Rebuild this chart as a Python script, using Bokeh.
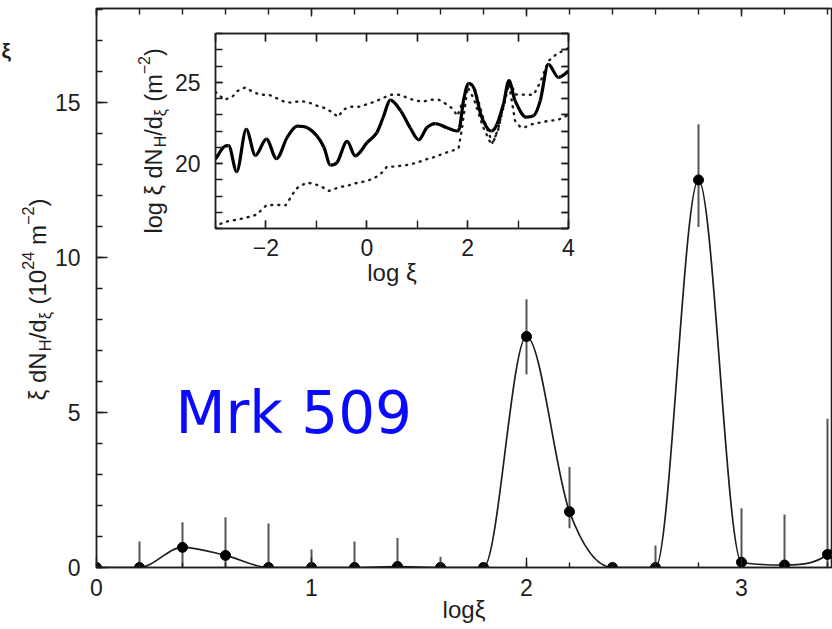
import numpy as np
from bokeh.plotting import figure
from bokeh.models import Range1d, SingleIntervalTicker, LinearAxis, Label, CustomJSTickFormatter
from bokeh.embed import file_html
from bokeh.resources import INLINE

FONT = "Liberation Sans"
INK = "#1e1e1e"

# ---------------- main panel data ----------------
log_xi = [0.0, 0.2, 0.4, 0.6, 0.8, 1.0, 1.2, 1.4, 1.6, 1.8, 2.0, 2.2, 2.4, 2.6, 2.8, 3.0, 3.2, 3.4, 3.6]
xi_dNH = [0.0, 0.0, 0.65, 0.39, 0.0, 0.0, 0.0, 0.03, 0.0, 0.0, 7.45, 1.8, 0.0, 0.0, 12.5, 0.17, 0.08, 0.42, 6.0]
err_low = [0, 0, 0, 0, 0, 0, 0, 0, 0, 0, 6.23, 1.27, 0, 0, 10.98, 0, 0, 0, 3.0]
err_high = [0, 0.84, 1.46, 1.62, 1.42, 0.58, 0.84, 0.95, 0.35, 0, 8.65, 3.24, 0, 0.71, 14.3, 1.91, 1.71, 4.8, 9.0]

# ---------------- inset data ----------------
solid_x = [-3.0, -2.83, -2.74, -2.58, -2.39, -2.21, -1.99, -1.79, -1.58, -1.38, -1.18, -0.99, -0.85,
           -0.72, -0.59, -0.39, -0.23, 0.01, 0.2, 0.32, 0.47, 0.67, 0.86, 1.03, 1.19, 1.36, 1.59, 1.79,
           1.84, 1.92, 2.02, 2.13, 2.28, 2.47, 2.58, 2.71, 2.82, 2.94, 3.16, 3.31, 3.44, 3.6, 3.8, 4.0]
solid_y = [20.27, 21.03, 21.1, 19.5, 22.1, 20.5, 21.5, 20.3, 21.6, 22.3, 22.2, 21.7, 21.0,
           19.9, 20.06, 21.36, 20.47, 21.3, 21.9, 22.8, 23.9, 23.25, 22.2, 21.46, 22.2, 22.46, 22.2, 22.0,
           22.2, 23.9, 24.94, 24.6, 22.84, 22.0, 22.4, 23.66, 25.1, 23.87, 22.85, 22.94, 23.87, 26.1, 25.3, 25.68]
upper_x = [-3.0, -2.82, -2.67, -2.56, -2.41, -2.27, -2.12, -1.94, -1.79, -1.65, -1.5, -1.33, -1.17, -1.0,
           -0.85, -0.71, -0.57, -0.46, -0.32, -0.16, 0.01, 0.17, 0.47, 0.63, 0.8, 0.93, 1.1, 1.26, 1.43,
           1.56, 1.69, 1.8, 1.92, 2.02, 2.15, 2.3, 2.45, 2.52, 2.62, 2.75, 2.83, 2.95, 3.15, 3.31, 3.44,
           3.6, 3.77, 3.97, 4.0]
upper_y = [24.4, 23.92, 24.1, 24.47, 24.68, 24.43, 24.23, 24.23, 24.02, 23.82, 23.74, 23.84, 23.78, 23.57,
           23.43, 23.2, 22.87, 23.32, 23.49, 23.49, 23.65, 23.82, 24.23, 24.23, 24.06, 23.9, 23.8, 23.92, 23.92,
           23.69, 23.4, 22.93, 24.0, 25.0, 24.5, 22.9, 21.6, 21.4, 22.3, 24.2, 25.1, 24.25, 24.23, 24.23, 25.0,
           26.3, 26.75, 27.06, 27.1]
lower_x = [-3.0, -2.93, -2.74, -2.54, -2.34, -2.17, -2.08, -1.98, -1.81, -1.61, -1.51, -1.41, -1.32, -1.18,
           -1.02, -0.89, -0.75, -0.66, -0.52, -0.39, -0.26, -0.13, 0.04, 0.17, 0.3, 0.4, 0.53, 0.67, 0.83,
           1.0, 1.19, 1.36, 1.52, 1.69, 1.82, 1.88, 2.0, 2.12, 2.3, 2.47, 2.6, 2.75, 2.82, 2.94, 3.04, 3.11,
           3.28, 3.44, 3.61, 3.78, 3.94, 4.0]
lower_y = [16.0, 16.26, 16.46, 16.56, 16.71, 16.87, 17.18, 17.45, 17.45, 17.43, 17.9, 18.42, 18.62, 18.83,
           18.72, 18.56, 18.31, 18.42, 18.56, 18.62, 18.77, 18.83, 18.97, 19.14, 19.44, 19.81, 19.81, 19.86, 19.92,
           20.06, 20.27, 20.41, 20.62, 20.78, 20.93, 22.0, 24.7, 24.0, 22.3, 21.15, 22.0, 24.0, 24.9, 22.63, 22.26, 22.2,
           22.42, 22.52, 22.63, 22.67, 22.9, 23.0]


def smooth_segments(xv, yv):
    """Monotone (Fritsch-Carlson) cubic Hermite tangents -> Bezier control points."""
    x = np.asarray(xv, float)
    y = np.asarray(yv, float)
    h = np.diff(x)
    d = np.diff(y) / h
    m = np.zeros_like(y)
    m[0], m[-1] = d[0], d[-1]
    for i in range(1, len(y) - 1):
        if d[i - 1] * d[i] > 0:
            m[i] = (y[i + 1] - y[i - 1]) / (x[i + 1] - x[i - 1])
    for k in range(len(d)):
        if d[k] == 0:
            m[k] = 0.0
            m[k + 1] = 0.0
        else:
            a, b = m[k] / d[k], m[k + 1] / d[k]
            s = a * a + b * b
            if s > 9:
                t = 3 / np.sqrt(s)
                m[k], m[k + 1] = t * a * d[k], t * b * d[k]
    return dict(x0=x[:-1], y0=y[:-1], x1=x[1:], y1=y[1:],
                cx0=x[:-1] + h / 3, cy0=y[:-1] + m[:-1] * h / 3,
                cx1=x[1:] - h / 3, cy1=y[1:] - m[1:] * h / 3)


def style_axis(ax, major_in, minor_in, size="23px", standoff=10, show=True):
    ax.major_tick_in = major_in
    ax.major_tick_out = 0
    ax.minor_tick_in = minor_in
    ax.minor_tick_out = 0
    for attr in ("axis_line", "major_tick_line", "minor_tick_line"):
        setattr(ax, attr + "_color", INK)
        setattr(ax, attr + "_width", 1.4)
    ax.major_label_text_font = FONT
    ax.major_label_text_color = INK
    ax.major_label_standoff = standoff
    if show:
        ax.major_label_text_font_size = size
    else:
        ax.formatter = CustomJSTickFormatter(code="return ''")
        ax.major_label_text_font_size = "0px"
        ax.major_label_standoff = 0


W = {' ': 0.278, '(': 0.333, ')': 0.333, 'd': 0.556, 'N': 0.722, 'H': 0.722, '/': 0.278, 'm': 0.833,
     'l': 0.222, 'o': 0.556, 'g': 0.556, '\u2212': 0.584, '\u03be': 0.5}


def text_width(s, size):
    return sum(W.get(c, 0.556) for c in s) * size


def rotated_label(fig, pieces, x_base, y_start, size):
    """Rotated (reading upward) title made of normal / subscript / superscript pieces."""
    y = y_start
    for txt, kind in pieces:
        sz = size if kind == "n" else size * 0.68
        lead = len(txt) - len(txt.lstrip(" "))
        y += text_width(" " * lead, sz)
        txt = txt.lstrip(" ")
        dx = 0 if kind == "n" else (size * 0.30 if kind == "sub" else -size * 0.40)
        fig.add_layout(Label(x=x_base + dx, y=y, x_units="screen", y_units="screen", text=txt,
                             angle=90, angle_units="deg", text_font=FONT, text_font_size=f"{sz:.1f}px",
                             text_color=INK, text_align="left", text_baseline="alphabetic"))
        y += text_width(txt, sz)


# ---------------- main figure ----------------
p = figure(width=832, height=629, x_range=Range1d(0, 3.4186), y_range=Range1d(0, 18.03),
           output_backend="svg", toolbar_location=None,
           min_border_left=96, min_border_right=1, min_border_top=8, min_border_bottom=62)
p.background_fill_color = "white"
p.border_fill_color = "white"
p.outline_line_color = INK
p.outline_line_width = 1.5
p.xgrid.visible = False
p.ygrid.visible = False

p.xaxis.ticker = SingleIntervalTicker(interval=1, num_minor_ticks=5)
p.yaxis.ticker = SingleIntervalTicker(interval=5, num_minor_ticks=5)
style_axis(p.xaxis[0], 10, 5, standoff=11)
style_axis(p.yaxis[0], 11, 6, standoff=16)
p.xaxis.axis_label = "log\u03be"
p.xaxis.axis_label_text_font = FONT
p.xaxis.axis_label_text_font_size = "24px"
p.xaxis.axis_label_text_font_style = "normal"
p.xaxis.axis_label_text_color = INK
p.xaxis.axis_label_standoff = -3

top_ax = LinearAxis(ticker=SingleIntervalTicker(interval=1, num_minor_ticks=5))
style_axis(top_ax, 8, 6, show=False)
p.add_layout(top_ax, "above")

p.bezier(line_color=INK, line_width=1.7, **smooth_segments(log_xi, xi_dNH))
p.segment(x0=log_xi, y0=err_low, x1=log_xi, y1=err_high, line_color="#555555", line_width=2)
p.scatter(log_xi, xi_dNH, size=10, color="black")

p.add_layout(Label(x=0.367, y=4.97, text="Mrk 509", text_font="DejaVu Sans", text_font_size="58px",
                   text_color="#0a0aff", text_align="left", text_baseline="alphabetic"))

# inset's y-axis title (sits inside the main frame, left of the inset)
rotated_label(p, [("log \u03be dN", "n"), ("H", "sub"), ("/d", "n"), ("\u03be", "sub"), (" (m", "n"),
                  ("\u22122", "sup"), (")", "n")],
              x_base=57, y_start=334, size=23.5)

# ---------------- left strip for the main y-axis title ----------------
side = figure(width=60, height=629, x_range=Range1d(0, 60), y_range=Range1d(0, 629),
              output_backend="svg", toolbar_location=None, min_border=0,
              x_axis_location=None, y_axis_location=None)
side.outline_line_color = None
side.background_fill_color = None
side.border_fill_color = None
side.xgrid.visible = False
side.ygrid.visible = False
rotated_label(side, [("\u03be dN", "n"), ("H", "sub"), ("/d", "n"), ("\u03be", "sub"), (" (10", "n"),
                     ("24", "sup"), (" m", "n"), ("\u22122", "sup"), (")", "n")],
              x_base=37, y_start=229, size=24)
side.add_layout(Label(x=1, y=568, x_units="screen", y_units="screen", text="\u03be", text_font=FONT,
                      text_font_size="21px", text_font_style="bold", text_color=INK))

# ---------------- inset figure ----------------
ins = figure(width=425, height=273, x_range=Range1d(-3, 4), y_range=Range1d(16, 28),
             output_backend="svg", toolbar_location=None,
             min_border_left=60, min_border_right=12, min_border_top=8, min_border_bottom=70)
ins.background_fill_color = "white"
ins.border_fill_color = None
ins.outline_line_color = INK
ins.outline_line_width = 1.5
ins.xgrid.visible = False
ins.ygrid.visible = False
ins.xaxis.ticker = SingleIntervalTicker(interval=2, num_minor_ticks=2)
ins.yaxis.ticker = SingleIntervalTicker(interval=5, num_minor_ticks=5)
style_axis(ins.xaxis[0], 8, 8, standoff=10)
style_axis(ins.yaxis[0], 7, 7, standoff=15)
ins.xaxis.major_label_overrides = {-2: "\u22122", 0: "0", 2: "2", 4: "4"}
ins.xaxis.axis_label = "log \u03be"
ins.xaxis.axis_label_text_font = FONT
ins.xaxis.axis_label_text_font_size = "24px"
ins.xaxis.axis_label_text_font_style = "normal"
ins.xaxis.axis_label_text_color = INK
ins.xaxis.axis_label_standoff = 0

ins_top = LinearAxis(ticker=SingleIntervalTicker(interval=1, num_minor_ticks=1))
style_axis(ins_top, 8, 8, show=False)
ins.add_layout(ins_top, "above")
ins_right = LinearAxis(ticker=SingleIntervalTicker(interval=1, num_minor_ticks=1))
style_axis(ins_right, 7, 7, show=False)
ins.add_layout(ins_right, "right")

ins.line(upper_x, upper_y, line_color=INK, line_width=2.4, line_dash="1 6", line_cap="round")
ins.line(lower_x, lower_y, line_color=INK, line_width=2.4, line_dash="1 6", line_cap="round")
ins.bezier(line_color="black", line_width=3.2, **smooth_segments(solid_x, solid_y))

template = """
{% block contents %}
<div style="position:relative;width:832px;height:629px;overflow:hidden;background:white;">
  <div style="position:absolute;left:0px;top:0px;">{{ embed(roots[0]) }}</div>
  <div style="position:absolute;left:155px;top:25px;">{{ embed(roots[1]) }}</div>
  <div style="position:absolute;left:0px;top:0px;">{{ embed(roots[2]) }}</div>
</div>
{% endblock %}
"""

open("out.html", "w").write(file_html([p, ins, side], INLINE, template=template))
